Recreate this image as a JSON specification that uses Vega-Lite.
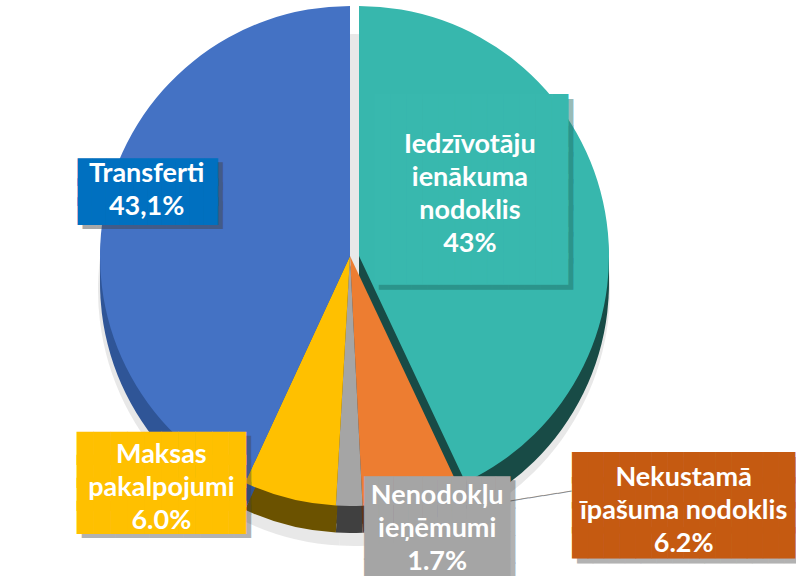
{
  "$schema": "https://vega.github.io/schema/vega-lite/v6.json",
  "width": 700,
  "height": 512,
  "autosize": {"type": "none"},
  "padding": {"left": 0, "top": 0, "right": 96, "bottom": 64},
  "background": "white",
  "config": {"view": {"stroke": null}},
  "data": {
    "values": [
      {"cat": "Iedzīvotāju ienākuma nodoklis", "pct": 43.0, "idx": 1, "label": "Iedzīvotāju\nienākuma\nnodoklis\n43%"},
      {"cat": "Nekustamā īpašuma nodoklis", "pct": 6.2, "idx": 2, "label": "Nekustamā\nīpašuma nodoklis\n6.2%"},
      {"cat": "Nenodokļu ieņēmumi", "pct": 1.7, "idx": 3, "label": "Nenodokļu\nieņēmumi\n1.7%"},
      {"cat": "Maksas pakalpojumi", "pct": 6.0, "idx": 4, "label": "Maksas\npakalpojumi\n6.0%"},
      {"cat": "Transferti", "pct": 43.1, "idx": 5, "label": "Transferti\n43,1%"}
    ]
  },
  "encoding": {
    "theta": {"field": "pct", "type": "quantitative", "stack": true},
    "order": {"field": "idx", "type": "quantitative"},
    "detail": {"field": "cat", "type": "nominal"}
  },
  "layer": [
    {"mark": {"type": "arc", "outerRadius": 256, "yOffset": 34, "xOffset": 4, "color": "#d9d9d9", "opacity": 0.6}},
    {"mark": {"type": "arc", "outerRadius": 250, "yOffset": 9},
     "encoding": {"color": {"field": "cat", "type": "nominal", "legend": null, "scale": {"domain": ["Iedzīvotāju ienākuma nodoklis", "Nekustamā īpašuma nodoklis", "Nenodokļu ieņēmumi", "Maksas pakalpojumi", "Transferti"], "range": ["#184B46", "#5E3514", "#404040", "#6B5200", "#2F5597"]}},
       "opacity": {"condition": {"test": "datum.idx === 1", "value": 0}, "value": 1}}},
    {"mark": {"type": "arc", "outerRadius": 250, "yOffset": 18},
     "encoding": {"color": {"field": "cat", "type": "nominal", "legend": null, "scale": {"domain": ["Iedzīvotāju ienākuma nodoklis", "Nekustamā īpašuma nodoklis", "Nenodokļu ieņēmumi", "Maksas pakalpojumi", "Transferti"], "range": ["#184B46", "#5E3514", "#404040", "#6B5200", "#2F5597"]}},
       "opacity": {"condition": {"test": "datum.idx === 1", "value": 0}, "value": 1}}},
    {"mark": {"type": "arc", "outerRadius": 250, "yOffset": 27},
     "encoding": {"color": {"field": "cat", "type": "nominal", "legend": null, "scale": {"domain": ["Iedzīvotāju ienākuma nodoklis", "Nekustamā īpašuma nodoklis", "Nenodokļu ieņēmumi", "Maksas pakalpojumi", "Transferti"], "range": ["#184B46", "#5E3514", "#404040", "#6B5200", "#2F5597"]}},
       "opacity": {"condition": {"test": "datum.idx === 1", "value": 0}, "value": 1}}},
    {"mark": {"type": "arc", "outerRadius": 250, "yOffset": 9, "xOffset": 9, "color": "#184B46"},
     "encoding": {"opacity": {"condition": {"test": "datum.idx === 1", "value": 1}, "value": 0}}},
    {"mark": {"type": "arc", "outerRadius": 250, "yOffset": 18, "xOffset": 9, "color": "#184B46"},
     "encoding": {"opacity": {"condition": {"test": "datum.idx === 1", "value": 1}, "value": 0}}},
    {"mark": {"type": "arc", "outerRadius": 250, "yOffset": 27, "xOffset": 9, "color": "#184B46"},
     "encoding": {"opacity": {"condition": {"test": "datum.idx === 1", "value": 1}, "value": 0}}},
    {"mark": {"type": "arc", "outerRadius": 250},
     "encoding": {"color": {"field": "cat", "type": "nominal", "legend": null, "scale": {"domain": ["Iedzīvotāju ienākuma nodoklis", "Nekustamā īpašuma nodoklis", "Nenodokļu ieņēmumi", "Maksas pakalpojumi", "Transferti"], "range": ["#37B7AD", "#ED7D31", "#A5A5A5", "#FFC000", "#4472C4"]}},
       "opacity": {"condition": {"test": "datum.idx === 1", "value": 0}, "value": 1}}},
    {"mark": {"type": "arc", "outerRadius": 250, "xOffset": 9, "color": "#37B7AD"},
     "encoding": {"opacity": {"condition": {"test": "datum.idx === 1", "value": 1}, "value": 0}}},

    {"mark": {"type": "text", "radius": 250, "dx": 124, "dy": 18, "angle": -9, "font": "DejaVu Sans Mono", "fontSize": 12, "text": "──────────", "color": "#8c8c8c", "align": "center", "baseline": "middle"},
     "encoding": {"opacity": {"condition": {"test": "datum.idx === 2", "value": 1}, "value": 0}}},

    {"mark": {"type": "text", "radius": 200, "dx": -2, "dy": -35.5, "font": "DejaVu Sans Mono", "fontSize": 23.26, "lineHeight": 19.5, "lineBreak": "\n", "text": "██████████\n██████████\n██████████", "color": "#404040", "align": "center", "baseline": "middle"},
     "encoding": {"opacity": {"condition": {"test": "datum.idx === 5", "value": 0.45}, "value": 0}}},
    {"mark": {"type": "text", "radius": 200, "dx": -7, "dy": -39.5, "font": "DejaVu Sans Mono", "fontSize": 23.26, "lineHeight": 19.5, "lineBreak": "\n", "text": "██████████\n██████████\n██████████", "color": "#0070C0", "align": "center", "baseline": "middle"},
     "encoding": {"opacity": {"condition": {"test": "datum.idx === 5", "value": 1}, "value": 0}}},
    {"mark": {"type": "text", "radius": 200, "dx": -8, "dy": -38.5, "font": "Lato", "fontWeight": "bold", "fontSize": 27, "lineHeight": 33, "lineBreak": "\n", "color": "white", "align": "center", "baseline": "middle"},
     "encoding": {"text": {"field": "label", "type": "nominal"}, "opacity": {"condition": {"test": "datum.idx === 5", "value": 1}, "value": 0}}},

    {"mark": {"type": "text", "radius": 130, "dx": -1, "dy": -111.8, "font": "DejaVu Sans Mono", "fontSize": 26.85, "lineHeight": 26.6, "lineBreak": "\n", "text": "████████████\n████████████\n████████████\n████████████\n████████████\n████████████\n████████████", "color": "#1d6b64", "align": "center", "baseline": "middle"},
     "encoding": {"opacity": {"condition": {"test": "datum.idx === 1", "value": 0.45}, "value": 0}}},
    {"mark": {"type": "text", "radius": 130, "dx": -6, "dy": -116.8, "font": "DejaVu Sans Mono", "fontSize": 26.85, "lineHeight": 26.6, "lineBreak": "\n", "text": "████████████\n████████████\n████████████\n████████████\n████████████\n████████████\n████████████", "color": "#38B8AE", "align": "center", "baseline": "middle"},
     "encoding": {"opacity": {"condition": {"test": "datum.idx === 1", "value": 1}, "value": 0}}},
    {"mark": {"type": "text", "radius": 130, "dx": -7, "dy": -82.5, "font": "Lato", "fontWeight": "bold", "fontSize": 27, "lineHeight": 33, "lineBreak": "\n", "color": "white", "align": "center", "baseline": "middle"},
     "encoding": {"text": {"field": "label", "type": "nominal"}, "opacity": {"condition": {"test": "datum.idx === 1", "value": 1}, "value": 0}}},

    {"mark": {"type": "text", "radius": 250, "dx": -123, "dy": -44.65, "font": "DejaVu Sans Mono", "fontSize": 28.07, "lineHeight": 23.1, "lineBreak": "\n", "text": "██████████\n██████████\n██████████\n██████████", "color": "#404040", "align": "center", "baseline": "middle"},
     "encoding": {"opacity": {"condition": {"test": "datum.idx === 4", "value": 0.4}, "value": 0}}},
    {"mark": {"type": "text", "radius": 250, "dx": -128, "dy": -48.65, "font": "DejaVu Sans Mono", "fontSize": 28.07, "lineHeight": 23.1, "lineBreak": "\n", "text": "██████████\n██████████\n██████████\n██████████", "color": "#FFC000", "align": "center", "baseline": "middle"},
     "encoding": {"opacity": {"condition": {"test": "datum.idx === 4", "value": 1}, "value": 0}}},
    {"mark": {"type": "text", "radius": 250, "dx": -128, "dy": -44, "font": "Lato", "fontWeight": "bold", "fontSize": 27, "lineHeight": 33, "lineBreak": "\n", "color": "white", "align": "center", "baseline": "middle"},
     "encoding": {"text": {"field": "label", "type": "nominal"}, "opacity": {"condition": {"test": "datum.idx === 4", "value": 1}, "value": 0}}},

    {"mark": {"type": "text", "radius": 250, "dx": 93, "dy": -9.95, "font": "DejaVu Sans Mono", "fontSize": 24.25, "lineHeight": 27.3, "lineBreak": "\n", "text": "██████████\n██████████\n██████████\n██████████", "color": "#404040", "align": "center", "baseline": "middle"},
     "encoding": {"opacity": {"condition": {"test": "datum.idx === 3", "value": 0.4}, "value": 0}}},
    {"mark": {"type": "text", "radius": 250, "dx": 88, "dy": -13.95, "font": "DejaVu Sans Mono", "fontSize": 24.25, "lineHeight": 27.3, "lineBreak": "\n", "text": "██████████\n██████████\n██████████\n██████████", "color": "#A5A5A5", "align": "center", "baseline": "middle"},
     "encoding": {"opacity": {"condition": {"test": "datum.idx === 3", "value": 1}, "value": 0}}},
    {"mark": {"type": "text", "radius": 250, "dx": 88, "dy": -10, "font": "Lato", "fontWeight": "bold", "fontSize": 27, "lineHeight": 33, "lineBreak": "\n", "color": "white", "align": "center", "baseline": "middle"},
     "encoding": {"text": {"field": "label", "type": "nominal"}, "opacity": {"condition": {"test": "datum.idx === 3", "value": 1}, "value": 0}}},

    {"mark": {"type": "text", "radius": 250, "dx": 278, "dy": -24.05, "font": "DejaVu Sans Mono", "fontSize": 26.46, "lineHeight": 24.7, "lineBreak": "\n", "text": "██████████████\n██████████████\n██████████████\n██████████████", "color": "#404040", "align": "center", "baseline": "middle"},
     "encoding": {"opacity": {"condition": {"test": "datum.idx === 2", "value": 0.4}, "value": 0}}},
    {"mark": {"type": "text", "radius": 250, "dx": 273, "dy": -29.05, "font": "DejaVu Sans Mono", "fontSize": 26.46, "lineHeight": 24.7, "lineBreak": "\n", "text": "██████████████\n██████████████\n██████████████\n██████████████", "color": "#C55A11", "align": "center", "baseline": "middle"},
     "encoding": {"opacity": {"condition": {"test": "datum.idx === 2", "value": 1}, "value": 0}}},
    {"mark": {"type": "text", "radius": 250, "dx": 273, "dy": -21, "font": "Lato", "fontWeight": "bold", "fontSize": 27, "lineHeight": 33, "lineBreak": "\n", "color": "white", "align": "center", "baseline": "middle"},
     "encoding": {"text": {"field": "label", "type": "nominal"}, "opacity": {"condition": {"test": "datum.idx === 2", "value": 1}, "value": 0}}}
  ],
  "resolve": {"scale": {"color": "independent"}}
}
